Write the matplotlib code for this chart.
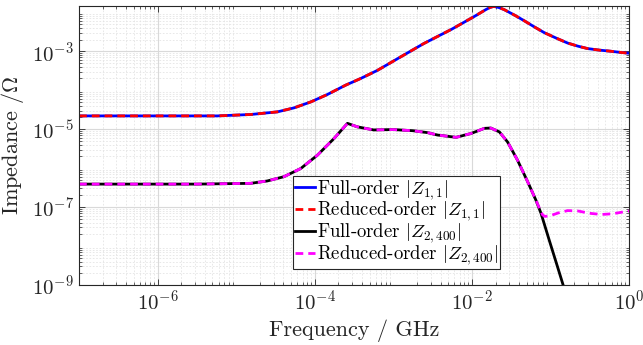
import numpy as np
import matplotlib
matplotlib.use("Agg")
import matplotlib.pyplot as plt

# ---------------- data ----------------
freq_z11 = [1.0e-7, 1.0e-6, 5.75e-6, 1.53e-5, 3.35e-5, 5.45e-5, 8.9e-5, 1.45e-4,
            2.48e-4, 3.85e-4, 6.3e-4, 1.135e-3, 2.45e-3, 5.6e-3, 1.05e-2, 1.51e-2,
            1.70e-2, 1.90e-2, 2.19e-2, 2.57e-2, 3.55e-2, 4.68e-2, 6.3e-2, 8.3e-2,
            0.1175, 0.166, 0.224, 0.295, 0.417, 0.589, 0.794, 1.0]
z11_full = [2.19e-5, 2.19e-5, 2.19e-5, 2.38e-5, 2.78e-5, 3.52e-5, 5.0e-5, 7.76e-5,
            1.35e-4, 2.0e-4, 3.24e-4, 6.46e-4, 1.58e-3, 3.72e-3, 7.6e-3, 1.175e-2,
            1.33e-2, 1.42e-2, 1.33e-2, 1.175e-2, 8.3e-3, 6.0e-3, 4.17e-3, 3.02e-3,
            2.19e-3, 1.62e-3, 1.35e-3, 1.175e-3, 1.07e-3, 1.0e-3, 9.3e-4, 8.9e-4]
z11_reduced = list(z11_full)

freq_z2 = [1.0e-7, 3.16e-6, 1.53e-5, 2.49e-5, 4.06e-5, 6.64e-5, 1.08e-4, 1.76e-4,
           2.61e-4, 3.47e-4, 5.62e-4, 1.0e-3, 1.78e-3, 2.75e-3, 3.63e-3, 6.31e-3,
           9.77e-3, 1.445e-2, 1.74e-2, 2.24e-2, 2.85e-2, 3.80e-2, 5.13e-2, 6.53e-2,
           7.59e-2, 9.66e-2, 0.123, 0.143, 0.178]
z2_full = [3.89e-7, 3.89e-7, 4.07e-7, 4.68e-7, 6.03e-7, 9.77e-7, 2.14e-6, 5.75e-6,
           1.41e-5, 1.15e-5, 9.55e-6, 9.77e-6, 9.12e-6, 8.13e-6, 7.08e-6, 6.17e-6,
           7.76e-6, 1.05e-5, 1.07e-5, 8.51e-6, 4.68e-6, 1.62e-6, 4.47e-7, 1.51e-7,
           6.92e-8, 1.41e-8, 2.95e-9, 1.10e-9, 2.5e-10]

freq_z2_red = [1.0e-7, 3.16e-6, 1.53e-5, 2.49e-5, 4.06e-5, 6.64e-5, 1.08e-4, 1.76e-4,
               2.61e-4, 3.47e-4, 5.62e-4, 1.0e-3, 1.78e-3, 2.75e-3, 3.63e-3, 6.31e-3,
               9.77e-3, 1.445e-2, 1.74e-2, 2.24e-2, 2.85e-2, 3.80e-2, 5.13e-2, 6.53e-2,
               7.24e-2, 7.94e-2, 8.51e-2, 0.1, 0.126, 0.166, 0.224, 0.316, 0.447,
               0.631, 0.871, 1.0]
z2_reduced = [3.89e-7, 3.89e-7, 4.07e-7, 4.68e-7, 6.03e-7, 9.77e-7, 2.14e-6, 5.75e-6,
              1.41e-5, 1.15e-5, 9.55e-6, 9.77e-6, 9.12e-6, 8.13e-6, 7.08e-6, 6.17e-6,
              7.76e-6, 1.05e-5, 1.07e-5, 8.51e-6, 4.68e-6, 1.62e-6, 4.47e-7, 1.51e-7,
              9.33e-8, 6.31e-8, 5.75e-8, 6.03e-8, 7.08e-8, 8.13e-8, 7.94e-8, 6.92e-8,
              6.46e-8, 6.76e-8, 7.59e-8, 7.94e-8]

labels = [r"Full-order $|Z_{1,1}|$", r"Reduced-order $|Z_{1,1}|$",
          r"Full-order $|Z_{2,400}|$", r"Reduced-order $|Z_{2,400}|$"]
xlabel = "Frequency / GHz"
ylabel = r"Impedance /$\Omega$"

# ---------------- style ----------------
plt.rcParams["font.family"] = ["cmr10", "DejaVu Serif"]
plt.rcParams["mathtext.fontset"] = "cm"
plt.rcParams["axes.unicode_minus"] = False
plt.rcParams["axes.formatter.use_mathtext"] = True

fig = plt.figure(figsize=(6.43, 3.45), dpi=100)
ax = fig.add_axes([79 / 643, 1 - 285 / 345, 550 / 643, 279 / 345])

lw = 2.0
ax.plot(freq_z11, z11_full, color="#0000FF", lw=lw, label=labels[0])
ax.plot(freq_z11, z11_reduced, color="#FF0000", lw=lw, dashes=(2.8, 1.8), label=labels[1])
ax.plot(freq_z2, z2_full, color="#000000", lw=lw, label=labels[2])
ax.plot(freq_z2_red, z2_reduced, color="#FF00FF", lw=lw, dashes=(2.8, 1.8), label=labels[3])

ax.set_xscale("log")
ax.set_yscale("log")
ax.set_xlim(1e-7, 1.0)
ax.set_ylim(1e-9, 1.45e-2)

ax.set_xticks([1e-6, 1e-4, 1e-2, 1e0])
ax.set_yticks([1e-9, 1e-7, 1e-5, 1e-3])
ax.xaxis.set_minor_locator(matplotlib.ticker.LogLocator(base=10, subs=np.arange(2, 10), numticks=100))
ax.yaxis.set_minor_locator(matplotlib.ticker.LogLocator(base=10, subs=np.arange(2, 10), numticks=100))
ax.xaxis.set_minor_formatter(matplotlib.ticker.NullFormatter())
ax.yaxis.set_minor_formatter(matplotlib.ticker.NullFormatter())

ax.grid(True, which="major", color="#d9d9d9", lw=0.8)
ax.grid(True, which="minor", color="#e4e4e4", lw=0.6, ls=(0, (2, 2)))
ax.set_axisbelow(True)

ax.tick_params(which="both", direction="in", top=True, right=True, colors="#262626",
               labelcolor="#262626", labelsize=15)
ax.tick_params(which="major", length=4, width=0.6)
ax.tick_params(which="minor", length=2.2, width=0.5)
for s in ax.spines.values():
    s.set_color("#262626")
    s.set_linewidth(0.8)

ax.set_xlabel(xlabel, fontsize=16, color="#262626", labelpad=4)
ax.set_ylabel(ylabel, fontsize=16, color="#262626", labelpad=4)

leg = ax.legend(loc="lower left", bbox_to_anchor=(0.389, 0.058), fontsize=13.5,
                handlelength=1.05, handletextpad=0.12, borderpad=0.1,
                labelspacing=-0.1, borderaxespad=0, fancybox=False,
                framealpha=1, edgecolor="#262626")
leg.get_frame().set_linewidth(0.8)

fig.savefig("out.png", dpi=100)
